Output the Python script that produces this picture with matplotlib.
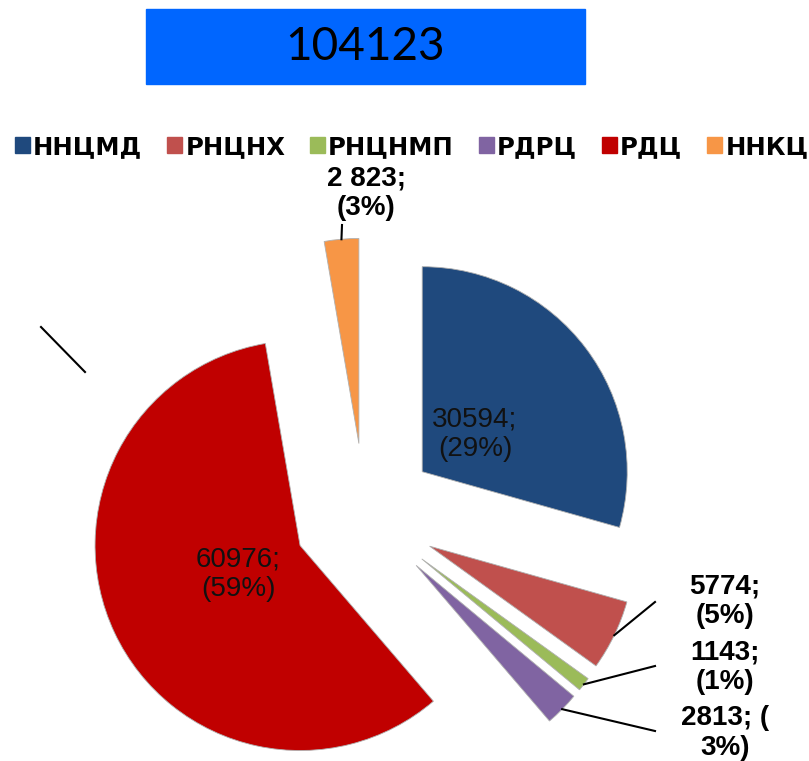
import matplotlib
matplotlib.use("Agg")
import matplotlib.pyplot as plt
from matplotlib.patches import Rectangle
import numpy as np

# data
names = ["ННЦМД", "РНЦНХ", "РНЦНМП", "РДРЦ", "РДЦ", "ННКЦ"]
values = [30594, 5774, 1143, 2813, 60976, 2823]
labels = ["30594;\n(29%)", "5774;\n(5%)", "1143;\n(1%)", "2813; (\n3%)",
          "60976;\n(59%)", "2 823;\n(3%)"]
colors = ["#1F497D", "#C0504D", "#9BBB59", "#8064A2", "#C00000", "#F79646"]
total = "104123"

W, H = 809, 761
CX, CY, R = 365, 515, 205   # pie centre and radius in pixels


def px(x, y):
    return (x - CX) / R, (CY - y) / R


fig = plt.figure(figsize=(W / 100, H / 100), dpi=100)
ax = fig.add_axes([0, 0, 1, 1])

wedges, _ = ax.pie(values, colors=colors, startangle=90, counterclock=False,
                   explode=[0.35] * len(values), radius=1,
                   wedgeprops=dict(edgecolor="#b0b0b0", linewidth=0.6))
ax.set_aspect("auto")
ax.set_xlim(-CX / R, (W - CX) / R)
ax.set_ylim(-(H - CY) / R, CY / R)
ax.axis("off")

# label placement: (text centre, leader line end or None, bold)
place = [((475, 434), None, False),
         ((725, 601), (655, 602), True),
         ((725, 667), (655, 666), True),
         ((725, 733), (655, 731), True),
         ((238, 574), None, False),
         ((366, 193), (342, 225), True)]

for w, lab, (tc, le, bold) in zip(wedges, labels, place):
    tx, ty = px(*tc)
    ax.text(tx, ty, lab, ha="center", va="center", fontsize=20,
            family="Liberation Sans", fontweight="bold" if bold else "normal",
            color="black" if bold else "#111111", linespacing=1.2)
    if le is not None:
        a = np.radians((w.theta1 + w.theta2) / 2)
        x0 = w.center[0] + w.r * np.cos(a)
        y0 = w.center[1] + w.r * np.sin(a)
        x1, y1 = px(*le)
        ax.plot([x0, x1], [y0, y1], color="black", lw=1.5)

# stray leader line on the left
sx0, sy0 = px(41, 327)
sx1, sy1 = px(85, 372)
ax.plot([sx0, sx1], [sy0, sy1], color="black", lw=1.5)

# title box
fig.add_artist(Rectangle((146 / W, 1 - 84 / H), (585 - 146) / W, 75 / H,
                         transform=fig.transFigure, color="#0066FF"))
fig.text(365 / W, 1 - 47 / H, total, ha="center", va="center",
         fontsize=33, family="Lato", color="black")

# legend
renderer = fig.canvas.get_renderer()
x = 15
for name, c in zip(names, colors):
    fig.add_artist(Rectangle((x / W, 1 - 153 / H), 15 / W, 16 / H,
                             transform=fig.transFigure, color=c))
    x += 18
    t = fig.text(x / W, 1 - 154 / H, name, ha="left", va="baseline",
                 fontsize=17.5, family="DejaVu Sans", fontweight="bold")
    x += t.get_window_extent(renderer).width + 25

fig.savefig("out.png", dpi=100)
